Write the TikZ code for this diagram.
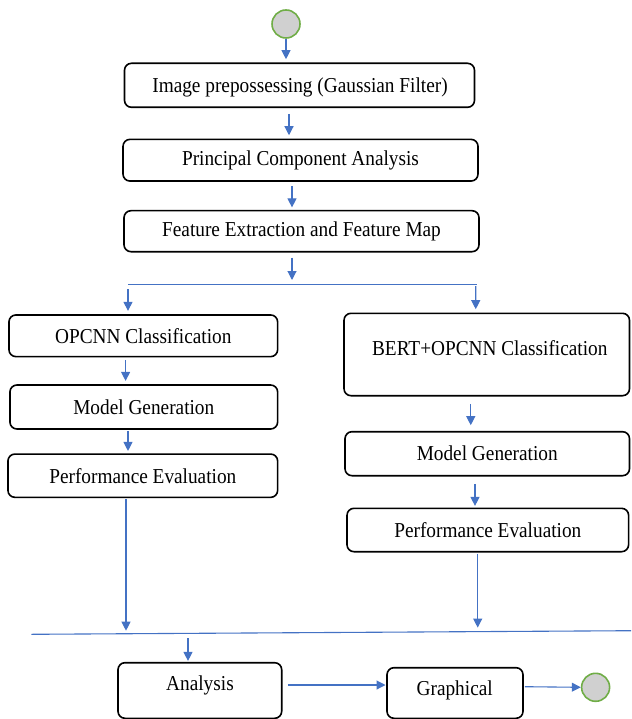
\documentclass[tikz,border=0pt]{standalone}
\usepackage{fontspec}
\usepackage{graphicx}
\setmainfont{Liberation Serif}
\usetikzlibrary{arrows.meta}
\definecolor{linkblue}{HTML}{4472C4}
\definecolor{termgreen}{HTML}{70AD47}
\definecolor{termgray}{HTML}{D0D0D0}
\newcommand{\tx}[1]{\scalebox{1}[1.1]{#1}}
\begin{document}
\begin{tikzpicture}[x=1pt,y=-1pt,
  box/.style={draw=black, line width=1.6pt, rounded corners=7pt, fill=white,
    inner sep=0pt, font=\fontsize{19.3}{22}\selectfont},
  lbl/.style={inner sep=0pt, font=\fontsize{19.3}{22}\selectfont},
  arr/.style={draw=linkblue, line width=1.1pt, -{Triangle[length=9pt,width=9pt]}},
  bar/.style={draw=linkblue, line width=1.1pt},
  term/.style={circle, draw=termgreen, fill=termgray, line width=1.6pt,
    minimum size=28pt, inner sep=0pt}]
\useasboundingbox (0,0) rectangle (631,719);
% top chain
\node[term] (s) at (286,24) {};
\node[box, minimum width=350pt, minimum height=44pt] (b1) at (299.5,85.3) {};
\node[lbl] (b1t) at (300,87.5) {\tx{Image prepossessing (Gaussian Filter)}};
\node[box, minimum width=355pt, minimum height=41.7pt] (b2) at (300.5,160.2) {\tx{Principal Component Analysis}};
\node[box, minimum width=355pt, minimum height=41pt] (b3) at (301.5,231.2) {\tx{Feature Extraction and Feature Map}};
% left branch
\node[box, minimum width=268.7pt, minimum height=41.7pt] (o1) at (143.3,335.8) {\tx{OPCNN Classification}};
\node[box, minimum width=267.7pt, minimum height=44pt] (o2) at (143.8,407) {\tx{Model Generation}};
\node[box, minimum width=269.7pt, minimum height=43.3pt] (o3) at (142.8,475.7) {\tx{Performance Evaluation}};
% right branch
\node[box, minimum width=285.5pt, minimum height=82.4pt] (r1) at (486.75,354.5) {};
\node[lbl] (r1t) at (489.8,348) {\tx{BERT+OPCNN Classification}};
\node[box, minimum width=284.5pt, minimum height=44pt] (r2) at (487.25,453.7) {\tx{Model Generation}};
\node[box, minimum width=281.6pt, minimum height=43.4pt] (r3) at (487.8,530) {\tx{Performance Evaluation}};
% bottom
\node[box, minimum width=163.7pt, minimum height=55.6pt] (a) at (199.85,690.5) {};
\node[lbl] (at) at (200,685.5) {\tx{Analysis}};
\node[box, minimum width=136pt, minimum height=50.6pt] (g) at (455,693) {};
\node[lbl] (gt) at (454.7,690.5) {\tx{Graphical}};
\node[term] (e) at (595.6,687.3) {};
% junction coordinates
\coordinate (jl) at (128,284.3);
\coordinate (jm) at (292,284.3);
\coordinate (jr) at (477,284.3);
\coordinate (ml) at (31.4,634.3);
\coordinate (mr) at (631,630.7);
\coordinate (m1) at (126,633.7);
\coordinate (m2) at (477.7,631.6);
\coordinate (m3) at (188,633.4);
% connectors
\draw[arr] (s.south) -- ([xshift=-13.5pt,yshift=3.3pt]b1.north);
\draw[arr] ([xshift=-10.5pt,yshift=-5.7pt]b1.south) -- ([xshift=-11.5pt,yshift=3.3pt]b2.north);
\draw[arr] ([xshift=-8.5pt,yshift=-4pt]b2.south) -- ([xshift=-9.5pt,yshift=2.5pt]b3.north);
\draw[arr] ([xshift=-9.5pt,yshift=-5.2pt]b3.south) -- ([yshift=4.3pt]jm);
\draw[bar] (jl) -- (jr);
\draw[arr] ([yshift=-4.7pt]jl) -- ([xshift=-15.3pt,yshift=3.3pt]o1.north);
\draw[arr] ([xshift=-1.3pt,yshift=-1.7pt]jr) -- ([xshift=-11pt,yshift=3.3pt]r1.north);
\draw[arr] ([xshift=-17.7pt,yshift=-2.3pt]o1.south) -- ([xshift=-18.2pt,yshift=3.3pt]o2.north);
\draw[arr] ([xshift=-15.8pt,yshift=-1pt]o2.south) -- ([xshift=-14.8pt,yshift=2.3pt]o3.north);
\draw[arr] ([xshift=-16.8pt,yshift=-0.6pt]o3.south) -- ([yshift=3pt]m1);
\draw[arr] ([xshift=-16pt,yshift=-7.3pt]r1.south) -- ([xshift=-16.5pt,yshift=5.7pt]r2.north);
\draw[arr] ([xshift=-12.25pt,yshift=-7.3pt]r2.south) -- ([xshift=-12.8pt,yshift=1.6pt]r3.north);
\draw[arr] ([xshift=-10.1pt,yshift=-1pt]r3.south) -- ([yshift=4pt]m2);
\draw[bar] (ml) -- (mr);
\draw[arr] ([yshift=-4.6pt]m3) -- ([xshift=-11.85pt,yshift=1pt]a.north);
\draw[arr] ([xshift=5.3pt,yshift=5.5pt]a.east) -- ([xshift=-0.7pt,yshift=8pt]g.west);
\draw[arr] ([xshift=1pt,yshift=6.3pt]g.east) -- (e.west);
\end{tikzpicture}
\end{document}
